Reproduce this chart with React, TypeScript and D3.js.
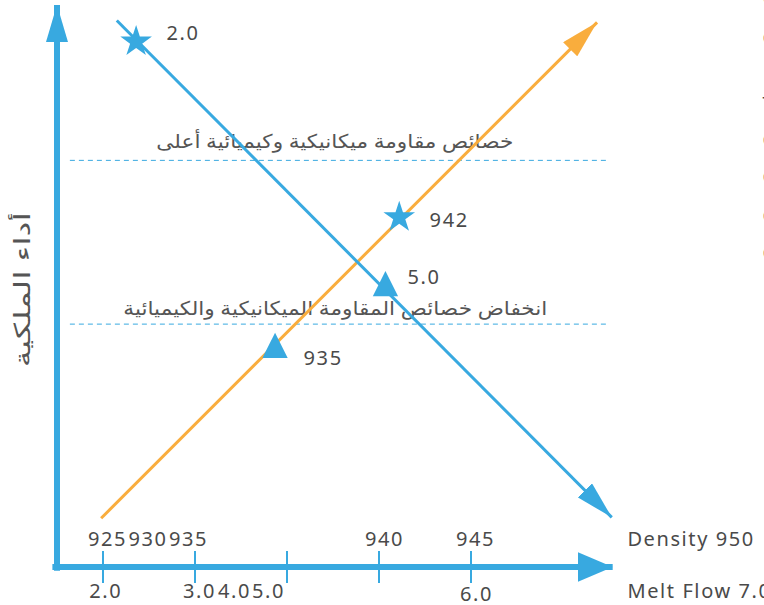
import React from 'react'
import * as d3 from 'd3'

const W = 764
const H = 605
const blue = '#38a9e0'
const orange = '#f9ad3d'
const ink = '#4a4a4a'
const font = "'Noto Sans', 'DejaVu Sans', sans-serif"

// schematic chart units: 1 unit = one melt-flow tick step, same on both axes
const orangeLine: [number, number][] = [[0.98, 0.53], [6.37, 5.92]]
const blueLine: [number, number][] = [[1.15, 5.94], [6.53, 0.54]]

const starPts = [
  { u: 1.36, v: 5.71, label: '2.0', lu: 1.69, lv: 5.73 },
  { u: 4.22, v: 3.8, label: '942', lu: 4.55, lv: 3.7 },
]
const triPts = [
  { u: 4.07, v: 3.08, label: '5.0', lu: 4.31, lv: 3.08 },
  { u: 2.87, v: 2.41, label: '935', lu: 3.18, lv: 2.2 },
]

const guideLevels = [4.42, 2.64]
const guideTexts = ['خصائص مقاومة ميكانيكية وكيميائية أعلى', 'انخفاض خصائص المقاومة الميكانيكية والكيميائية']
const guideTextPos = [{ u: 5.46, v: 4.55 }, { u: 5.83, v: 2.74 }]
const guideTextLen = [357, 424]

const tickSteps = [1, 2, 3, 4, 5]
const densityLabels = ['925', '930', '935', '940', '945']
const densityAt = [1.05, 1.49, 1.93, 4.06, 5.05]
const meltLabels = ['2.0', '3.0', '4.0', '5.0', '6.0']
const meltAt = [1.03, 2.05, 2.43, 2.8, 5.06]
const meltDrop = [0, 0, 0, 0, 0.03]

const yTitle = 'أداء الملكية'
const sideNotes = ['Clarity', 'Cost', 'Toughness', 'Creep', 'Cracking', 'Chemical', 'Cycle']
const sideBaselines = [5, 45, 111, 147, 184, 223, 260]

const triangle = {
  draw(ctx: any, size: number) {
    const s = Math.sqrt(size)
    ctx.moveTo(0, -s / 2)
    ctx.lineTo(s / 2, s / 2)
    ctx.lineTo(-s / 2, s / 2)
    ctx.closePath()
  },
}

export default function App() {
  const x = d3.scaleLinear().domain([0.5, 6.5]).range([57, 609])
  const y = d3.scaleLinear().domain([0, 6]).range([567, 15])
  const line = d3.line<[number, number]>().x(d => x(d[0])).y(d => y(d[1]))
  const star = d3.symbol().type(d3.symbolStar).size(310)()
  const tri = d3.symbol().type(triangle as any).size(640)()

  const txt = { fontFamily: font, fontSize: 20, fill: ink, letterSpacing: 1.6 } as any
  const arabic = { fontFamily: font, fontSize: 19, fill: '#555' } as any

  return (
    <svg width={W} height={H} style={{ position: 'absolute', left: 0, top: 0 }}>
      <defs>
        <marker id="headBlue" markerUnits="userSpaceOnUse" markerWidth={38} markerHeight={20} refX={38} refY={10} orient="auto" viewBox="0 0 38 20">
          <path d="M0,0L38,10L0,20Z" fill={blue} />
        </marker>
        <marker id="headOrange" markerUnits="userSpaceOnUse" markerWidth={38} markerHeight={20} refX={38} refY={10} orient="auto" viewBox="0 0 38 20">
          <path d="M0,0L38,10L0,20Z" fill={orange} />
        </marker>
        <marker id="axisY" markerUnits="userSpaceOnUse" markerWidth={37} markerHeight={22} refX={37} refY={11} orient="auto" viewBox="0 0 37 22">
          <path d="M0,0L37,11L0,22Z" fill={blue} />
        </marker>
        <marker id="axisX" markerUnits="userSpaceOnUse" markerWidth={35} markerHeight={30} refX={35} refY={15} orient="auto" viewBox="0 0 35 30">
          <path d="M0,0L35,15L0,30Z" fill={blue} />
        </marker>
      </defs>

      {/* guide lines */}
      {guideLevels.map((g, i) => (
        <line key={'g' + i} x1={x(0.64)} x2={x(6.49)} y1={y(g)} y2={y(g)} stroke={blue} strokeWidth={1} strokeDasharray="5,4" />
      ))}
      {guideTexts.map((t, i) => (
        <text key={'gt' + i} x={x(guideTextPos[i].u) - guideTextLen[i]} y={y(guideTextPos[i].v)}
          textLength={guideTextLen[i]} lengthAdjust="spacingAndGlyphs" style={arabic}>{t}</text>
      ))}

      {/* the two trend lines */}
      <path d={line(orangeLine) || ''} stroke={orange} strokeWidth={3} fill="none" markerEnd="url(#headOrange)" />
      <path d={line(blueLine) || ''} stroke={blue} strokeWidth={3} fill="none" markerEnd="url(#headBlue)" />

      {starPts.map((p, i) => (
        <g key={'s' + i}>
          <path d={star || ''} transform={`translate(${x(p.u)},${y(p.v)})`} fill={blue} />
          <text x={x(p.lu)} y={y(p.lv)} style={txt}>{p.label}</text>
        </g>
      ))}
      {triPts.map((p, i) => (
        <g key={'t' + i}>
          <path d={tri || ''} transform={`translate(${x(p.u)},${y(p.v)})`} fill={blue} />
          <text x={x(p.lu)} y={y(p.lv)} style={txt}>{p.label}</text>
        </g>
      ))}

      {/* axes */}
      <line x1={x(0.5)} x2={x(0.5)} y1={y(-0.04)} y2={y(6.11)} stroke={blue} strokeWidth={6} markerEnd="url(#axisY)" />
      <line x1={x(0.45)} x2={x(6.54)} y1={y(0)} y2={y(0)} stroke={blue} strokeWidth={6} markerEnd="url(#axisX)" />
      {tickSteps.map(t => (
        <line key={'k' + t} x1={x(t)} x2={x(t)} y1={y(0) - 16} y2={y(0) + 16} stroke={blue} strokeWidth={2} />
      ))}

      {densityLabels.map((d, i) => (
        <text key={'d' + i} x={x(densityAt[i])} y={y(0.23)} textAnchor="middle" style={txt}>{d}</text>
      ))}
      <text x={x(6.7)} y={y(0.23)} style={txt}>Density 950</text>

      {meltLabels.map((m, i) => (
        <text key={'m' + i} x={x(meltAt[i])} y={y(-0.34 - meltDrop[i])} textAnchor="middle" style={txt}>{m}</text>
      ))}
      <text x={x(6.7)} y={y(-0.34)} style={txt}>Melt Flow 7.0</text>

      <text transform={`translate(30,${y(3.02) + 78}) rotate(-90)`} textLength={155} lengthAdjust="spacingAndGlyphs"
        style={{ ...arabic, fontSize: 22 }}>{yTitle}</text>

      {/* legend running off the right edge */}
      {sideNotes.map((s, i) => (
        <text key={'n' + i} x={762.5} y={sideBaselines[i]} style={txt}>{s}</text>
      ))}
    </svg>
  )
}
